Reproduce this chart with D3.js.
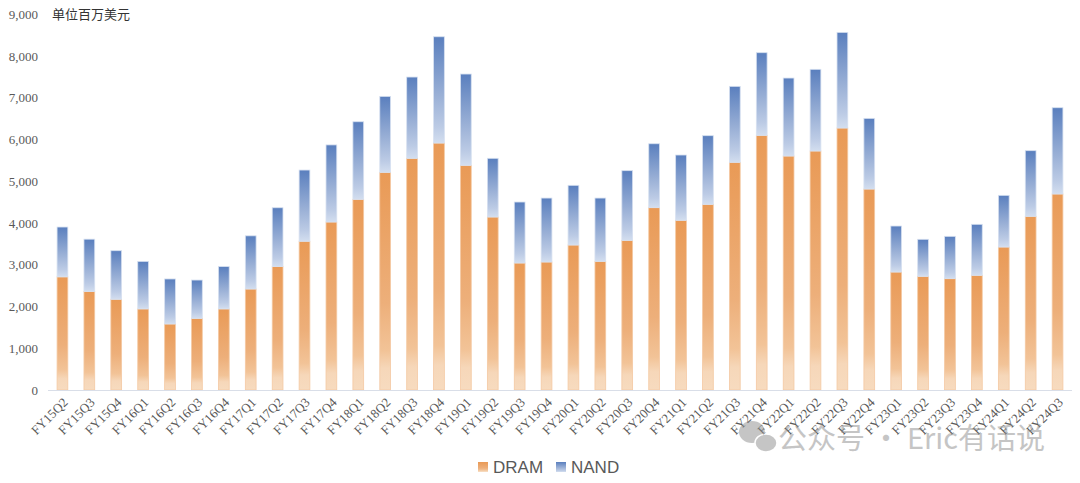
<!DOCTYPE html>
<html lang="zh">
<head>
    <meta charset="UTF-8">
    <title>DRAM / NAND 营收</title>
    <script src="https://cdn.jsdelivr.net/npm/d3@7"></script>
    <style>
        body { margin: 0; background: #fff; }
        svg { display: block; }
    </style>
</head>
<body>
    <script>
        // 数据（单位：百万美元）
        const quarters = ['FY15Q2','FY15Q3','FY15Q4','FY16Q1','FY16Q2','FY16Q3','FY16Q4','FY17Q1','FY17Q2','FY17Q3',
                          'FY17Q4','FY18Q1','FY18Q2','FY18Q3','FY18Q4','FY19Q1','FY19Q2','FY19Q3','FY19Q4','FY20Q1',
                          'FY20Q2','FY20Q3','FY20Q4','FY21Q1','FY21Q2','FY21Q3','FY21Q4','FY22Q1','FY22Q2','FY22Q3',
                          'FY22Q4','FY23Q1','FY23Q2','FY23Q3','FY23Q4','FY24Q1','FY24Q2','FY24Q3'];
        const dram = [2710, 2358, 2173, 1942, 1581, 1716, 1942, 2419, 2956, 3563,
                      4024, 4567, 5214, 5550, 5916, 5382, 4144, 3042, 3066, 3473,
                      3082, 3585, 4368, 4065, 4447, 5454, 6100, 5605, 5725, 6276,
                      4814, 2826, 2723, 2667, 2747, 3425, 4160, 4695];
        const nand = [1194, 1255, 1164, 1139, 1079, 918, 1014, 1274, 1410, 1706,
                      1847, 1859, 1820, 1947, 2546, 2187, 1406, 1461, 1532, 1430,
                      1516, 1669, 1531, 1564, 1645, 1820, 1980, 1868, 1957, 2291,
                      1693, 1102, 887, 1014, 1222, 1238, 1573, 2067];
        const seriesNames = ['DRAM', 'NAND'];
        const yTicks = [0, 1000, 2000, 3000, 4000, 5000, 6000, 7000, 8000, 9000];

        const width = 1080, height = 483;
        const svg = d3.select('body').append('svg')
            .attr('width', width)
            .attr('height', height);

        // 渐变
        const defs = svg.append('defs');
        const gOrange = defs.append('linearGradient').attr('id', 'gDram')
            .attr('x1', 0).attr('y1', 0).attr('x2', 0).attr('y2', 1);
        gOrange.append('stop').attr('offset', '0%').attr('stop-color', '#E99A56');
        gOrange.append('stop').attr('offset', '60%').attr('stop-color', '#EDAF7A');
        gOrange.append('stop').attr('offset', '82%').attr('stop-color', '#F2C397');
        gOrange.append('stop').attr('offset', '90%').attr('stop-color', '#F6D7B9');
        gOrange.append('stop').attr('offset', '100%').attr('stop-color', '#F7DBBF');
        const gBlue = defs.append('linearGradient').attr('id', 'gNand')
            .attr('x1', 0).attr('y1', 0).attr('x2', 0).attr('y2', 1);
        gBlue.append('stop').attr('offset', '0%').attr('stop-color', '#5A7FBE');
        gBlue.append('stop').attr('offset', '55%').attr('stop-color', '#9AB0D6');
        gBlue.append('stop').attr('offset', '85%').attr('stop-color', '#BCCBE5');
        gBlue.append('stop').attr('offset', '100%').attr('stop-color', '#D3DEEF');

        const x = d3.scaleBand()
            .domain(quarters)
            .range([49, 1071])
            .paddingInner(0.6)
            .paddingOuter(0.3);
        const y = d3.scaleLinear()
            .domain([0, 9000])
            .range([390, 14.3]);

        const rows = quarters.map((q, i) => ({ q, DRAM: dram[i], NAND: nand[i] }));
        const stacked = d3.stack().keys(seriesNames)(rows);
        const fills = { DRAM: 'url(#gDram)', NAND: 'url(#gNand)' };
        const strokes = { DRAM: '#F4C9A3', NAND: '#D6E0F0' };

        const layer = svg.selectAll('g.layer')
            .data(stacked)
            .enter()
            .append('g')
            .attr('class', 'layer');

        layer.selectAll('rect')
            .data(s => s.map(d => ({ key: s.key, d })))
            .enter()
            .append('rect')
            .attr('x', p => x(p.d.data.q))
            .attr('y', p => y(p.d[1]))
            .attr('width', x.bandwidth())
            .attr('height', p => y(p.d[0]) - y(p.d[1]))
            .attr('fill', p => fills[p.key])
            .attr('stroke', p => strokes[p.key])
            .attr('stroke-width', 0.8);

        // x 轴线
        svg.append('line')
            .attr('x1', 48).attr('x2', 1072)
            .attr('y1', y(0) + 0.5).attr('y2', y(0) + 0.5)
            .attr('stroke', '#D9DEE8')
            .attr('stroke-width', 1.2);

        // y 轴刻度
        svg.append('g')
            .selectAll('text')
            .data(yTicks)
            .enter()
            .append('text')
            .attr('x', 38)
            .attr('y', d => y(d))
            .attr('dy', '0.35em')
            .attr('text-anchor', 'end')
            .attr('fill', '#595959')
            .style('font', '13px "Liberation Serif", serif')
            .text(d => d3.format(',')(d));

        // x 轴标签
        svg.append('g')
            .selectAll('text')
            .data(quarters)
            .enter()
            .append('text')
            .attr('transform', d => `translate(${x(d) + x.bandwidth() / 2 + 3}, 400) rotate(-45)`)
            .attr('text-anchor', 'end')
            .attr('dy', '0.35em')
            .attr('fill', '#595959')
            .style('font', '13px "Liberation Serif", serif')
            .text(d => d);

        // 单位
        svg.append('text')
            .attr('x', 52).attr('y', 19)
            .attr('fill', '#333')
            .style('font', '13px "Noto Sans CJK SC", sans-serif')
            .text('单位百万美元');

        // 图例
        const legend = svg.append('g').attr('transform', 'translate(478, 467)');
        const items = legend.selectAll('g')
            .data(seriesNames)
            .enter()
            .append('g')
            .attr('transform', (d, i) => `translate(${i * 78}, 0)`);
        items.append('rect')
            .attr('x', 0).attr('y', -5)
            .attr('width', 10).attr('height', 10)
            .attr('fill', d => fills[d]);
        items.append('text')
            .attr('x', 15).attr('y', 0)
            .attr('dy', '0.35em')
            .attr('fill', '#595959')
            .style('font', '17px "Liberation Sans", sans-serif')
            .text(d => d);

        // 水印
        const wm = svg.append('g').attr('opacity', 0.5);
        wm.append('ellipse').attr('cx', 752).attr('cy', 432).attr('rx', 13).attr('ry', 11).attr('fill', '#8c8c8c');
        wm.append('ellipse').attr('cx', 766).attr('cy', 443).attr('rx', 11).attr('ry', 9).attr('fill', '#8c8c8c')
            .attr('stroke', '#fff').attr('stroke-width', 1.5);
        wm.append('text')
            .attr('x', 778).attr('y', 449)
            .attr('fill', '#8c8c8c')
            .style('font', '29px "Noto Sans CJK SC", sans-serif')
            .text('公众号 · Eric有话说');
    </script>
</body>
</html>
